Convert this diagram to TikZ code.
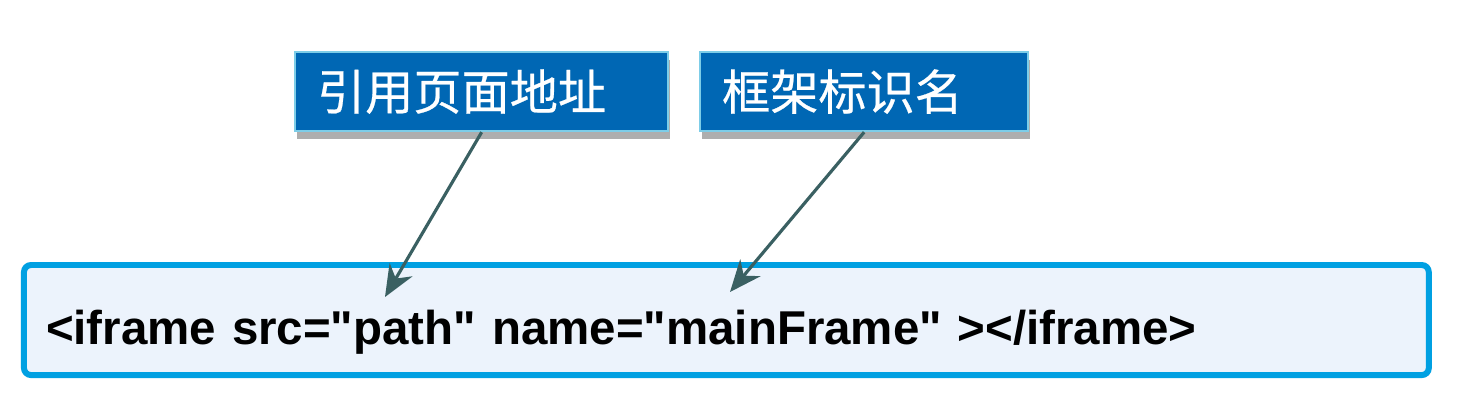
\documentclass[tikz,border=0pt]{standalone}
\usepackage{fontspec}
\setmainfont{Liberation Sans}
\newfontfamily\cjk[FakeBold=0.5]{Noto Sans CJK SC}
\usepackage{tikz}
\usetikzlibrary{arrows.meta, shadows}
\definecolor{labelblue}{RGB}{0,103,180}
\definecolor{labelrim}{RGB}{125,205,232}
\definecolor{framecyan}{RGB}{0,160,226}
\definecolor{codebg}{RGB}{236,243,252}
\definecolor{pointer}{RGB}{58,96,98}
\newcommand{\dq}{\textquotedbl}
\tikzset{
  tag/.style={
    rectangle, draw=labelrim, line width=0.6pt, fill=labelblue,
    text=white, font=\cjk\fontsize{13.7}{16}\selectfont,
    minimum height=0.79cm, inner xsep=0.22cm, anchor=north west, align=left,
    drop shadow={shadow xshift=0.6pt, shadow yshift=-2.2pt, opacity=0.45, fill=black!70}
  },
  codebox/.style={
    rectangle, rounded corners=2pt, draw=framecyan, line width=1.7pt, fill=codebg,
    font=\bfseries\fontsize{13.5}{16}\selectfont, anchor=north west,
    minimum width=14.04cm, minimum height=1.1cm, align=left,
    text width=13.6cm, inner xsep=0.19cm, text height=0.6cm, text depth=0.12cm
  },
  every edge/.style={draw=pointer, line width=0.9pt, -{Stealth[length=9pt, width=7.5pt]}},
}

\begin{document}
\begin{tikzpicture}[x=0.01cm, y=-0.01cm]
  \useasboundingbox (0,0) rectangle (1462,411);

  % Labels
  \node[tag, text width=3.29cm] (addr) at (294,51) {引用页面地址};
  \node[tag, text width=2.84cm] (ident) at (699,51) {框架标识名};

  % Code line
  \node[codebox] (code) at (21,262) {<iframe src=\dq path\dq{} name=\dq mainFrame\dq{} ></iframe>};

  % Pointers
  \coordinate (pathpt) at (385,297);
  \coordinate (namept) at (730,292);
  \draw (addr.south) edge (pathpt)
        (ident.south) edge (namept);

\end{tikzpicture}
\end{document}
